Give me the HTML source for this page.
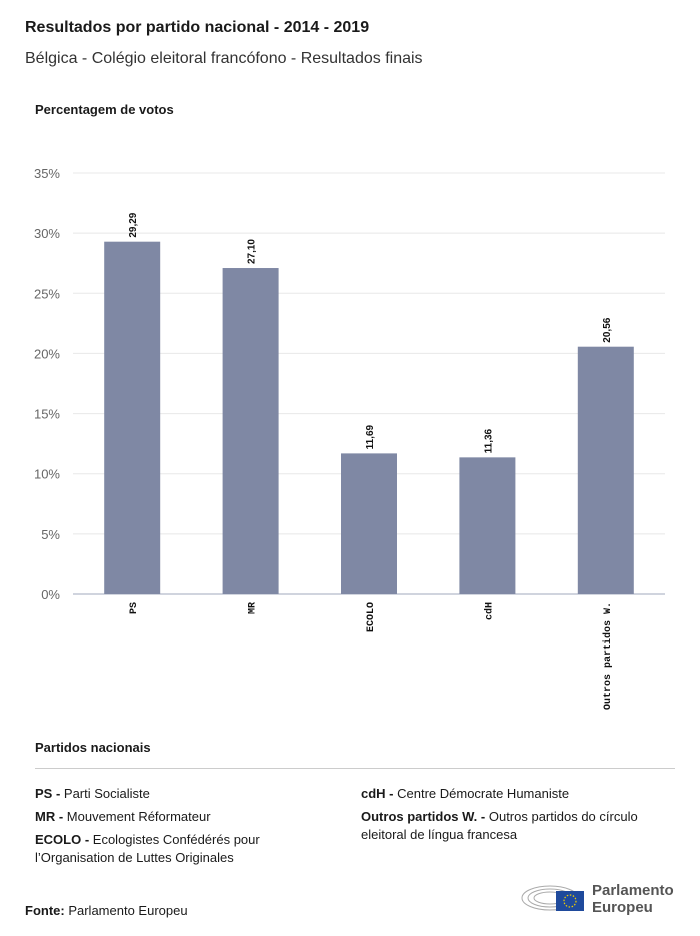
<!DOCTYPE html>
<html><head><meta charset="utf-8">
<style>
body{margin:0;width:700px;height:936px;background:#fff;font-family:"Liberation Sans",sans-serif;color:#1a1a1a;position:relative;overflow:hidden}
.abs{position:absolute}
.b{font-weight:bold}
.leg{font-size:13px;line-height:18px}
</style></head><body>
<div class="abs b" style="left:25px;top:19px;font-size:16px">Resultados por partido nacional - 2014 - 2019</div>
<div class="abs" style="left:25px;top:50px;font-size:16px;color:#333">Bélgica - Colégio eleitoral francófono - Resultados finais</div>
<div class="abs b" style="left:35px;top:102px;font-size:13px">Percentagem de votos</div>
<svg class="abs" style="left:0;top:0" width="700" height="730">
<g id="grid"></g><g id="bars"></g><g id="labels"></g>
</svg>
<div class="abs b" style="left:35px;top:740px;font-size:13px">Partidos nacionais</div>
<div class="abs" style="left:35px;top:768px;width:640px;height:1px;background:#ccc"></div>
<div class="abs leg" style="left:35px;top:785px"><b>PS -</b> Parti Socialiste</div>
<div class="abs leg" style="left:35px;top:808px"><b>MR -</b> Mouvement Réformateur</div>
<div class="abs leg" style="left:35px;top:831px;width:270px"><b>ECOLO -</b> Ecologistes Confédérés pour l’Organisation de Luttes Originales</div>
<div class="abs leg" style="left:361px;top:785px"><b>cdH -</b> Centre Démocrate Humaniste</div>
<div class="abs leg" style="left:361px;top:808px;width:310px"><b>Outros partidos W. -</b> Outros partidos do círculo eleitoral de língua francesa</div>
<div class="abs" style="left:25px;top:903px;font-size:13px"><b>Fonte:</b> Parlamento Europeu</div>
<div class="abs" style="left:520px;top:878px;width:160px;height:40px">
<svg width="70" height="40" style="position:absolute;left:0;top:0">
<g fill="none" stroke="#aaa" stroke-width="1">
<ellipse cx="30" cy="20" rx="28" ry="12"/><ellipse cx="30" cy="20" rx="22" ry="9"/><ellipse cx="30" cy="20" rx="16" ry="6"/></g>
<rect x="36" y="13" width="28" height="20" fill="#1f4a9c"/>
<circle cx="50" cy="23" r="6" fill="none" stroke="#f5d000" stroke-width="1.2" stroke-dasharray="1.5 1.6"/>
</svg>
<div style="position:absolute;left:72px;top:4px;font-size:15px;font-weight:bold;color:#555;line-height:17px">Parlamento<br>Europeu</div>
</div>
<script>
const categories=["PS","MR","ECOLO","cdH","Outros partidos W."];
const values=[29.29,27.10,11.69,11.36,20.56];
const valueLabels=["29,29","27,10","11,69","11,36","20,56"];
const ticks=[0,5,10,15,20,25,30,35];
const ns="http://www.w3.org/2000/svg";
const x0=73,x1=665,y0=594,yTop=173,maxV=35;
const y=v=>y0-(v/maxV)*(y0-yTop);
const band=(x1-x0)/categories.length;
const bw=56;
const g=document.getElementById('grid'),b=document.getElementById('bars'),l=document.getElementById('labels');
function mk(t,a){const e=document.createElementNS(ns,t);for(const k in a)e.setAttribute(k,a[k]);return e;}
ticks.forEach(t=>{
 const ln=mk('line',{x1:x0,x2:x1,y1:y(t),y2:y(t),stroke:t===0?'#d0d4de':'#e8e8e8','stroke-width':t===0?2:1});
 
 
 g.appendChild(ln);
 const tx=mk('text',{x:60,y:y(t)+5,'text-anchor':'end','font-size':13,fill:'#666','font-family':'Liberation Sans, sans-serif'});
 tx.textContent=t+'%';
 
 
 g.appendChild(tx);
});
categories.forEach((c,i)=>{
 const cx=x0+band*(i+0.5);
 const r=mk('rect',{x:cx-bw/2,y:y(values[i]),width:bw,height:y0-y(values[i]),fill:'#7f88a4'});
 
 
 b.appendChild(r);
 const vl=mk('text',{transform:`translate(${cx+4},${y(values[i])-4}) rotate(-90)`,'font-size':10,'font-weight':'bold',fill:'#111','font-family':'Liberation Sans, sans-serif'});
 vl.textContent=valueLabels[i];
 
 
 l.appendChild(vl);
 const cl=mk('text',{transform:`translate(${cx+4},${y0+8}) rotate(-90)`,'text-anchor':'end','font-size':10,'font-weight':'bold',fill:'#111','font-family':'Liberation Mono, monospace'});
 cl.textContent=c;
 
 
 l.appendChild(cl);
});
</script>
</body></html>
